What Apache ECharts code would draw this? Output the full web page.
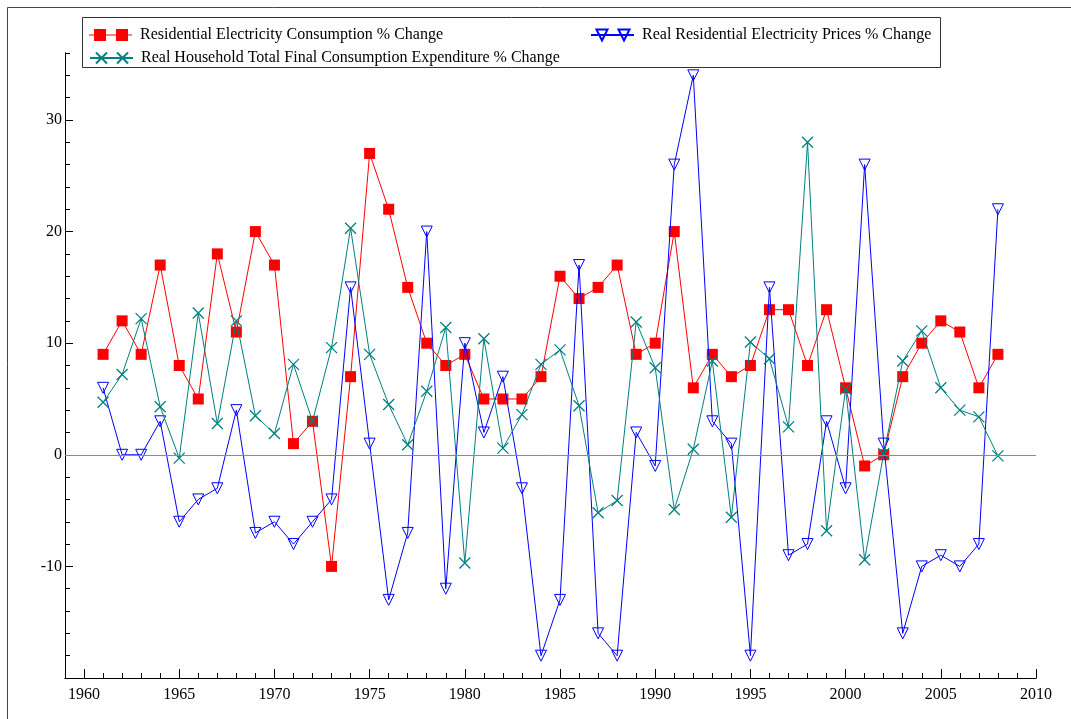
<!DOCTYPE html>
<html>
<head>
<meta charset="utf-8">
<script src="https://cdn.jsdelivr.net/npm/echarts@6/dist/echarts.min.js"></script>
<style>html,body{margin:0;padding:0;background:#fff;}#c{width:1071px;height:719px;}</style>
</head>
<body>
<div id="c"></div>
<script>
const years = [1961,1962,1963,1964,1965,1966,1967,1968,1969,1970,1971,1972,1973,1974,1975,1976,1977,1978,1979,1980,1981,1982,1983,1984,1985,1986,1987,1988,1989,1990,1991,1992,1993,1994,1995,1996,1997,1998,1999,2000,2001,2002,2003,2004,2005,2006,2007,2008];
const consumption = [9,12,9,17,8,5,18,11,20,17,1,3,-10,7,27,22,15,10,8,9,5,5,5,7,16,14,15,17,9,10,20,6,9,7,8,13,13,8,13,6,-1,0,7,10,12,11,6,9];
const prices = [6,0,0,3,-6,-4,-3,4,-7,-6,-8,-6,-4,15,1,-13,-7,20,-12,10,2,7,-3,-18,-13,17,-16,-18,2,-1,26,34,3,1,-18,15,-9,-8,3,-3,26,1,-16,-10,-9,-10,-8,22];
const expenditure = [4.7,7.2,12.2,4.3,-0.3,12.7,2.8,12.0,3.5,1.9,8.1,3.0,9.6,20.3,9.0,4.5,0.9,5.7,11.4,-9.7,10.4,0.6,3.6,8.1,9.4,4.4,-5.2,-4.1,11.9,7.8,-4.9,0.5,8.4,-5.6,10.1,8.6,2.5,28.0,-6.8,5.9,-9.4,0.1,8.4,11.1,6.0,4.0,3.4,-0.1];
const xMajorTicks = [1960,1965,1970,1975,1980,1985,1990,1995,2000,2005,2010];
const yMajorTicks = [-10,0,10,20,30];
const names = ['Residential Electricity Consumption % Change','Real Residential Electricity Prices % Change','Real Household Total Final Consumption Expenditure % Change'];

const xAllTicks = [];
for (let y = 1960; y <= 2010; y++) xAllTicks.push(y);
const yAllTicks = [];
for (let v = -18; v <= 36; v += 2) yAllTicks.push(v);

const pair = arr => years.map((y, i) => [y, arr[i]]);
const FONT = 'Liberation Serif';
const RED = '#ff0000', BLUE = '#0000ff', TEAL = '#008080';

const chart = echarts.init(document.getElementById('c'), null, {renderer: 'canvas'});
const legendBase = {orient: 'horizontal', padding: 0, itemWidth: 43, itemHeight: 12, itemGap: 0,
  textStyle: {fontFamily: FONT, fontSize: 16, color: '#000', padding: [0,0,0,3]}, selectedMode: false, z: 6};
chart.setOption({
  animation: false,
  backgroundColor: '#fff',
  grid: {left: 65, right: 35, top: 53, bottom: 41},
  xAxis: [
    {type: 'value', min: 1959, max: 2010, interval: 1, position: 'bottom', offset: 0,
     axisLine: {show: true, onZero: false, lineStyle: {color: '#000', width: 1}},
     axisTick: {show: true, inside: true, length: 5, customValues: xAllTicks, lineStyle: {color: '#000'}},
     axisLabel: {show: true, customValues: xMajorTicks, margin: 9, fontFamily: FONT, fontSize: 16, color: '#000',
       formatter: v => String(v)},
     splitLine: {show: false}},
    {type: 'value', min: 1959, max: 2010, interval: 1, position: 'bottom', offset: 0,
     axisLine: {show: true, onZero: false, lineStyle: {color: '#000', width: 1}},
     axisTick: {show: true, inside: true, length: 9, customValues: xMajorTicks, lineStyle: {color: '#000'}},
     axisLabel: {show: false}, splitLine: {show: false}}
  ],
  yAxis: [
    {type: 'value', min: -20, max: 36, interval: 2, position: 'left', offset: 0,
     axisLine: {show: true, onZero: false, lineStyle: {color: '#000', width: 1}},
     axisTick: {show: true, inside: true, length: 5, customValues: yAllTicks, lineStyle: {color: '#000'}},
     axisLabel: {show: true, customValues: yMajorTicks, margin: 3, fontFamily: FONT, fontSize: 16, color: '#000'},
     splitLine: {show: false}},
    {type: 'value', min: -20, max: 36, interval: 2, position: 'left', offset: 0,
     axisLine: {show: true, onZero: false, lineStyle: {color: '#000', width: 1}},
     axisTick: {show: true, inside: true, length: 8, customValues: yMajorTicks, lineStyle: {color: '#000'}},
     axisLabel: {show: false}, splitLine: {show: false}}
  ],
  legend: [
    Object.assign({}, legendBase, {left: 89, top: 27, data: [{name: names[0],
      icon: 'path://M0,5.5H43V6.5H0ZM5,0H17V12H5ZM27,0H39V12H27Z'}]}),
    Object.assign({}, legendBase, {left: 590, top: 27, data: [{name: names[1],
      icon: 'path://M0,6H43M5.5,0.5H16.5L11,11.5ZM27.5,0.5H38.5L33,11.5Z'}]}),
    Object.assign({}, legendBase, {left: 89, top: 50, data: [{name: names[2],
      icon: 'path://M0,6H43M6,0.5L17,11.5M17,0.5L6,11.5M27,0.5L38,11.5M38,0.5L27,11.5'}]})
  ],
  graphic: [
    {type: 'rect', z: 0, silent: true, shape: {x: 7.5, y: 7.5, width: 1200, height: 800},
     style: {fill: 'none', stroke: '#444', lineWidth: 1}},
    {type: 'rect', z: 5, silent: true, shape: {x: 82.5, y: 17.5, width: 858, height: 50},
     style: {fill: '#fff', stroke: '#333', lineWidth: 1}}
  ],
  series: [
    {name: names[0], type: 'line', xAxisIndex: 0, yAxisIndex: 0, data: pair(consumption), symbol: 'rect', symbolSize: 11, showAllSymbol: true,
     itemStyle: {color: RED}, lineStyle: {color: RED, width: 1}, emphasis: {disabled: true}, z: 2,
     markLine: {silent: true, symbol: ['none','none'], label: {show: false}, animation: false,
       lineStyle: {color: '#8a8a8a', width: 1, type: 'solid'}, emphasis: {disabled: true}, data: [{yAxis: 0}]}},
    {name: names[1], type: 'line', xAxisIndex: 0, yAxisIndex: 0, data: pair(prices), symbol: 'path://M0,0H10L5,10Z', symbolSize: 11, showAllSymbol: true,
     itemStyle: {color: 'rgba(0,0,0,0)', borderColor: BLUE, borderWidth: 1}, lineStyle: {color: BLUE, width: 1},
     emphasis: {disabled: true}, z: 3},
    {name: names[2], type: 'line', xAxisIndex: 0, yAxisIndex: 0, data: pair(expenditure), symbol: 'path://M0,0L10,10M10,0L0,10', symbolSize: 11, showAllSymbol: true,
     itemStyle: {color: TEAL, borderColor: TEAL, borderWidth: 1.3}, lineStyle: {color: TEAL, width: 1},
     emphasis: {disabled: true}, z: 4}
  ]
});
</script>
</body>
</html>
